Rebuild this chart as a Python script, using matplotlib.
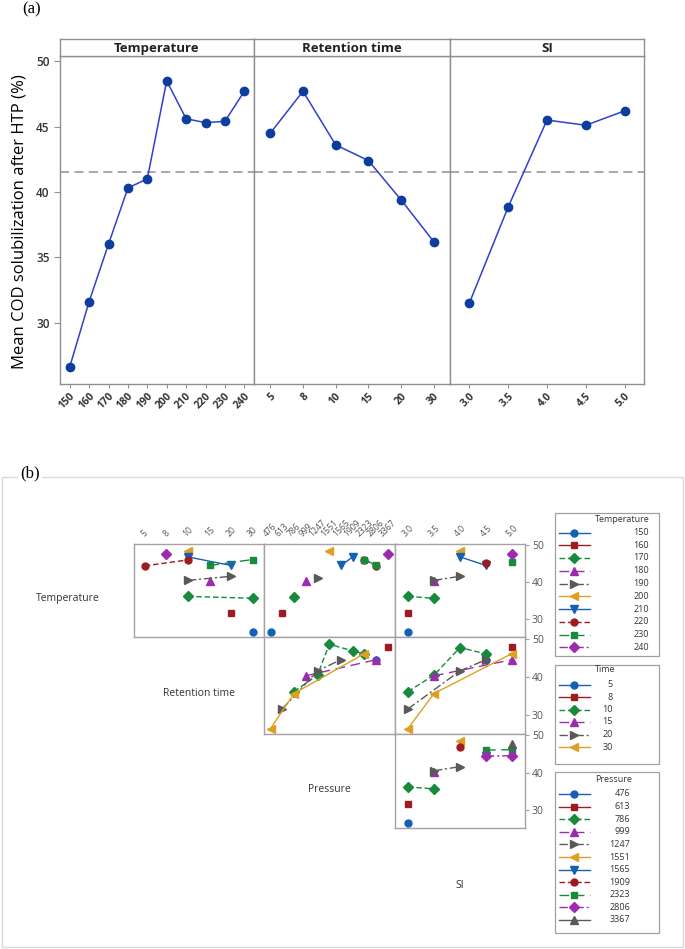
import matplotlib
matplotlib.use('Agg')
import matplotlib.pyplot as plt
from matplotlib.patches import Rectangle
import pandas as pd

plt.rcParams['font.family'] = ['Open Sans', 'DejaVu Sans']

# ---------------- Panel (a): main effects ----------------
temp_levels = [150, 160, 170, 180, 190, 200, 210, 220, 230, 240]
temp_means = [26.6, 31.6, 36.0, 40.3, 41.0, 48.5, 45.6, 45.3, 45.4, 47.7]
time_levels = [5, 8, 10, 15, 20, 30]
time_means = [44.5, 47.7, 43.6, 42.4, 39.4, 36.2]
si_levels = [3.0, 3.5, 4.0, 4.5, 5.0]
si_means = [31.5, 38.85, 45.5, 45.1, 46.2]
grand_mean = 41.5
pressure_levels = [476, 613, 786, 999, 1247, 1551, 1565, 1909, 2323, 2806, 3367]

# ---------------- Panel (b): runs used for interaction means ----------------
run_temp = [150, 160, 170, 170, 180, 190, 190, 200, 210, 210, 220, 220, 230, 230, 240]
run_time = [30, 20, 10, 30, 15, 10, 20, 10, 10, 20, 5, 10, 15, 30, 8]
run_pressure = [476, 613, 786, 786, 999, 1247, 1247, 1551, 1909, 1565, 2806, 2323, 2806, 2323, 3367]
run_si = [3.0, 3.0, 3.0, 3.5, 3.5, 3.5, 4.0, 4.0, 4.0, 4.5, 4.5, 4.5, 5.0, 5.0, 5.0]
run_cod = [26.6, 31.7, 36.2, 35.7, 40.3, 40.5, 41.6, 48.5, 46.8, 44.5, 44.4, 46.0, 44.5, 46.1, 47.7]

W, H = 685, 949
fig = plt.figure(figsize=(W / 100, H / 100), dpi=100)


def fr(x0, y0, x1, y1):
    return [x0 / W, 1 - y1 / H, (x1 - x0) / W, (y1 - y0) / H]


SPINE = '#8f8f8f'
YLIM = (25.3, 50.4)

# ---------- panel (a) ----------
a_edges = [60, 254, 450, 644]
a_top, a_bot, strip_top = 56, 384, 39
a_data = [("Temperature", temp_levels, temp_means, lambda v: str(v)),
          ("Retention time", time_levels, time_means, lambda v: str(v)),
          ("SI", si_levels, si_means, lambda v: f"{v:.1f}")]

for i, (name, levs, means, fmt) in enumerate(a_data):
    ax = fig.add_axes(fr(a_edges[i], a_top, a_edges[i + 1], a_bot))
    xs = list(range(len(levs)))
    ax.axhline(grand_mean, color='#a0a0a0', lw=1.3, ls=(0, (5, 3)), zorder=1)
    ax.plot(xs, means, color='#3040cc', lw=1.1, marker='o', ms=6,
            mfc='#0d3d9e', mec='#0d3d9e', zorder=3)
    ax.set_xlim(-0.5, len(levs) - 0.5)
    ax.set_ylim(*YLIM)
    for s in ax.spines.values():
        s.set_color(SPINE)
        s.set_linewidth(1.0)
    ax.set_xticks(xs)
    ax.set_xticklabels([fmt(v) for v in levs], rotation=45, ha='right',
                       rotation_mode='anchor', fontsize=7.5, fontweight='bold',
                       color='#333333')
    ax.tick_params(axis='x', length=3, color=SPINE, pad=2)
    if i == 0:
        ax.set_yticks([30, 35, 40, 45, 50])
        ax.tick_params(axis='y', length=4, color=SPINE, labelsize=8.5,
                       labelcolor='#333333')
        for t in ax.get_yticklabels():
            t.set_fontweight('semibold')
    else:
        ax.tick_params(axis='y', left=False, labelleft=False)
    sax = fig.add_axes(fr(a_edges[i], strip_top, a_edges[i + 1], a_top))
    sax.set_xticks([])
    sax.set_yticks([])
    for s in sax.spines.values():
        s.set_color(SPINE)
        s.set_linewidth(1.0)
    sax.text(0.5, 0.45, name, ha='center', va='center', fontsize=9.5,
             fontweight='bold', color='#222222', transform=sax.transAxes)

fig.text(20 / W, 1 - 222 / H, "Mean COD solubilization after HTP (%)",
         rotation=90, ha='center', va='center', fontsize=12, color='black')

# ---------- panel (b) ----------
df = pd.DataFrame({'Temperature': run_temp, 'Time': run_time,
                   'Pressure': run_pressure, 'SI': run_si, 'cod': run_cod})
levels = {'Temperature': temp_levels, 'Time': time_levels,
          'Pressure': pressure_levels, 'SI': si_levels}
xlabels = {'Time': [str(v) for v in time_levels],
           'Pressure': [str(v) for v in pressure_levels],
           'SI': [f"{v:.1f}" for v in si_levels]}

palette = ['#1660b4', '#9c1c22', '#178a3c', '#9c2bb0', '#595959', '#dea021']
markers = ['o', 's', 'D', '^', '>', '<', 'v']
styles = ['-', '-', (0, (4, 2)), (0, (7, 4)), (0, (6, 2, 1.5, 2))]
msizes = {'o': 5.0, 's': 4.8, 'D': 4.6, '^': 6.0, '>': 6.0, '<': 6.0, 'v': 6.0}

col_edges = [134, 263.5, 395, 525]
row_edges = [543.5, 637, 733.5, 828]
cells = [(0, 0, 'Temperature', 'Time'), (0, 1, 'Temperature', 'Pressure'),
         (0, 2, 'Temperature', 'SI'), (1, 1, 'Time', 'Pressure'),
         (1, 2, 'Time', 'SI'), (2, 2, 'Pressure', 'SI')]

BSP = '#a3a3a3'
for r, c, tvar, xvar in cells:
    ax = fig.add_axes(fr(col_edges[c], row_edges[r], col_edges[c + 1], row_edges[r + 1]))
    g = df.groupby([tvar, xvar])['cod'].mean()
    xl = levels[xvar]
    for k, lev in enumerate(levels[tvar]):
        if lev not in g.index.get_level_values(0):
            continue
        sub = g.loc[lev]
        xs = [xl.index(v) for v in sub.index]
        m = markers[k % 7]
        ax.plot(xs, sub.values, color=palette[k % 6], ls=styles[k % 5], lw=1.0,
                marker=m, ms=msizes[m], mfc=palette[k % 6], mec=palette[k % 6],
                zorder=3 + k * 0.01)
    n = len(xl)
    pad = 0.6 if xvar == 'Pressure' else 0.5
    ax.set_xlim(-pad, n - 1 + pad)
    ax.set_ylim(*YLIM)
    for s in ax.spines.values():
        s.set_color(BSP)
        s.set_linewidth(1.0)
    ax.tick_params(left=False, bottom=False, labelleft=False, labelbottom=False)
    if r == 0:
        ax.xaxis.set_ticks_position('top')
        ax.set_xticks(range(n))
        ax.set_xticklabels(xlabels[xvar], rotation=45, fontsize=6.2, color='#555555')
        ax.tick_params(axis='x', top=True, labeltop=True, length=0, pad=4)
    else:
        ax.set_xticks([])
    if c == 2:
        ax.yaxis.tick_right()
        ax.set_yticks([30, 40, 50])
        ax.tick_params(axis='y', right=True, labelright=True, length=3,
                       color=BSP, labelsize=7.5, labelcolor='#555555', pad=2)
    else:
        ax.set_yticks([])

# overlay for labels, legends and frame
ov = fig.add_axes([0, 0, 1, 1])
ov.set_xlim(0, W)
ov.set_ylim(H, 0)
ov.axis('off')

ov.add_patch(Rectangle((2, 477), 681, 470, fill=False, ec='#dadada', lw=1.0))
ov.text(32, 9, "(a)", ha='center', va='center', fontsize=12,
        family='Liberation Serif')
ov.text(30, 473, "(b)", ha='center', va='center', fontsize=12,
        family='Liberation Serif',
        bbox=dict(facecolor='white', edgecolor='none', pad=1.5))

diag_labels = [("Temperature", 68, 599), ("Retention time", 199, 694),
               ("Pressure", 329, 789), ("SI", 460, 886)]
for txt, x, y in diag_labels:
    ov.text(x, y, txt, ha='center', va='center', fontsize=7.5, color='#333333')

legend_specs = [
    ("Temperature", temp_levels, (555, 512.5, 659, 656), 520, 532.5, 12.75, 649, str),
    ("Time", time_levels, (555, 664.5, 659, 763.5), 670, 684.5, 12.5, 613, str),
    ("Pressure", pressure_levels, (555, 772, 659, 933), 780, 794, 12.6, 630, str),
]
for title, levs, (x0, y0, x1, y1), ty, fy, step, lx, f in legend_specs:
    ov.add_patch(Rectangle((x0, y0), x1 - x0, y1 - y0, fill=False, ec='#a0a0a0', lw=0.9))
    ov.text(595, ty, title, ha='left', va='center', fontsize=6.5, color='#333333')
    for k, lev in enumerate(levs):
        y = fy + k * step
        m = markers[k % 7]
        ov.plot([559, 590], [y, y], color=palette[k % 6], ls=styles[k % 5], lw=1.0)
        ov.plot([574.5], [y], color=palette[k % 6], marker=m, ms=msizes[m], ls='none')
        ov.text(lx, y, f(lev), ha='right', va='center', fontsize=6.5, color='#333333')

fig.savefig('out.png', dpi=100)
